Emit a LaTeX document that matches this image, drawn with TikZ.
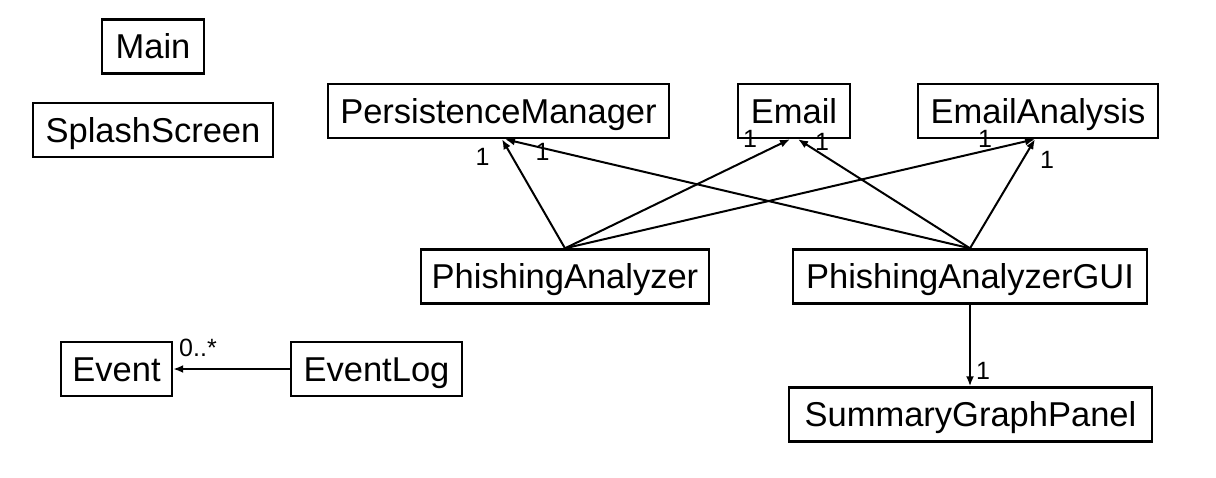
\documentclass[tikz,border=0pt]{standalone}
\usepackage{fontspec}
\setmainfont{Liberation Sans}
\usetikzlibrary{arrows.meta}
\begin{document}
\begin{tikzpicture}[x=1pt,y=-1pt,
  cls/.style={draw, line width=2.4pt, inner sep=0pt, font=\fontsize{34.5}{36}\selectfont,
    text height=27pt, text depth=3pt, minimum height=54pt},
  assoc/.style={line width=2pt, -{Latex[length=10pt,width=8pt]}},
  mult/.style={inner sep=0pt, font=\fontsize{25}{27}\selectfont}]
\useasboundingbox (0,0) rectangle (1216,477);
\fill[white] (0,0) rectangle (1216,477);
% classes
\node[cls, minimum width=102pt] (main) at (153,46.5) {Main};
\node[cls, minimum width=240pt] (splash) at (153,130) {SplashScreen};
\node[cls, minimum width=341pt] (pm) at (498.5,111) {PersistenceManager};
\node[cls, minimum width=112pt] (email) at (794,111) {Email};
\node[cls, minimum width=240pt] (ea) at (1038,111) {EmailAnalysis};
\node[cls, minimum width=288pt] (pa) at (565,276.5) {PhishingAnalyzer};
\node[cls, minimum width=354pt] (pag) at (970,276.5) {PhishingAnalyzerGUI};
\node[cls, minimum width=111pt] (event) at (116.5,369) {Event};
\node[cls, minimum width=171pt] (eventlog) at (376.5,369) {EventLog};
\node[cls, minimum width=363pt] (sgp) at (970.5,414.5) {SummaryGraphPanel};
% end points
\coordinate (pmA) at ([xshift=3.5pt]pm.south);
\coordinate (pmB) at ([xshift=6.5pt]pm.south);
\coordinate (emA) at ([xshift=-4pt]email.south);
\coordinate (emB) at ([xshift=4pt]email.south);
\coordinate (eaA) at ([xshift=-3pt]ea.south);
% connectors
\draw[assoc] (pa.north) -- (pmA);
\draw[assoc] (pag.north) -- (pmB);
\draw[assoc] (pa.north) -- (emA);
\draw[assoc] (pag.north) -- (emB);
\draw[assoc] (pa.north) -- (eaA);
\draw[assoc] (pag.north) -- (eaA);
\draw[assoc] (pag.south) -- (pag.south |- sgp.north);
\draw[assoc] (eventlog.west) -- (event.east);
% multiplicities
\node[mult] (m1) at (482.5,156.5) {1};
\node[mult] (m2) at (542.5,151.5) {1};
\node[mult] (m3) at (750,139) {1};
\node[mult] (m4) at (822,141.5) {1};
\node[mult] (m5) at (985,139) {1};
\node[mult] (m6) at (1047,160) {1};
\node[mult] (m7) at (983,371) {1};
\node[mult] (m8) at (198,348) {0..*};
\end{tikzpicture}
\end{document}
